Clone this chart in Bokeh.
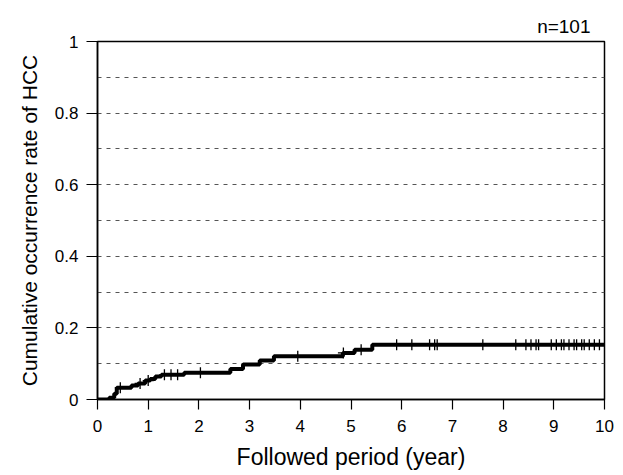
import numpy as np
from bokeh.plotting import figure
from bokeh.models import FixedTicker, Range1d
from bokeh.embed import file_html
from bokeh.resources import INLINE

# Kaplan-Meier style cumulative occurrence (event times in years, cumulative rate)
event_times = [0, 0.23, 0.33, 0.38, 0.67, 0.8, 0.94, 1.04, 1.14, 1.26, 1.71,
               2.62, 2.87, 3.2, 3.48, 4.84, 5.07, 5.42, 10.0]
cum_rate = [0, 0.005, 0.016, 0.033, 0.039, 0.045, 0.053, 0.057, 0.064, 0.069, 0.075,
            0.085, 0.098, 0.109, 0.121, 0.130, 0.139, 0.153, 0.153]

# censored observations (years)
censor_times = [0.45, 0.84, 1.0, 1.32, 1.45, 1.58, 2.03, 3.95, 4.85, 5.2,
                5.9, 6.2, 6.55, 6.65, 6.7, 7.6, 8.25, 8.45, 8.55, 8.65, 8.7,
                8.95, 9.05, 9.15, 9.2, 9.3, 9.4, 9.45, 9.55, 9.6, 9.7, 9.8, 9.9]

x_ticks = [0, 1, 2, 3, 4, 5, 6, 7, 8, 9, 10]
y_ticks = [0, 0.2, 0.4, 0.6, 0.8, 1]
grid_levels = [0.1, 0.2, 0.3, 0.4, 0.5, 0.6, 0.7, 0.8, 0.9]
sample_label = "n=101"

FONT = "Liberation Sans"

p = figure(width=615, height=475, frame_width=507, frame_height=358,
           output_backend="svg", toolbar_location=None,
           x_range=Range1d(0, 10), y_range=Range1d(0, 1),
           min_border_left=97, min_border_top=41, min_border_right=11,
           min_border_bottom=76,
           title=sample_label, title_location="above")

p.title.align = "right"
p.title.text_font = FONT
p.title.text_font_size = "19px"
p.title.text_font_style = "normal"
p.title.text_color = "black"
p.title.offset = 14
p.title.standoff = 10

p.background_fill_color = "white"
p.border_fill_color = "white"
p.outline_line_color = "black"
p.outline_line_width = 1.5

# grid
p.xgrid.visible = False
p.ygrid.ticker = FixedTicker(ticks=grid_levels)
p.ygrid.grid_line_color = "#555555"
p.ygrid.grid_line_dash = "4 5"
p.ygrid.grid_line_width = 1

# axes
for ax in (p.xaxis[0], p.yaxis[0]):
    ax.axis_line_color = "black"
    ax.axis_line_width = 1.5
    ax.major_tick_line_color = "black"
    ax.major_tick_line_width = 1.2
    ax.major_tick_in = 0
    ax.minor_tick_line_color = None
    ax.major_label_text_font = FONT
    ax.major_label_text_font_size = "17px"
    ax.major_label_text_color = "black"
    ax.axis_label_text_font = FONT
    ax.axis_label_text_font_style = "normal"
    ax.axis_label_text_color = "black"

p.xaxis.ticker = FixedTicker(ticks=x_ticks)
p.yaxis.ticker = FixedTicker(ticks=y_ticks)
p.yaxis.major_label_overrides = {0: "0", 0.2: "0.2", 0.4: "0.4", 0.6: "0.6", 0.8: "0.8", 1: "1"}
p.xaxis.axis_label = "Followed period (year)"
p.yaxis.axis_label = "Cumulative occurrence rate of HCC"
p.xaxis.major_tick_out = 10
p.yaxis.major_tick_out = 11
p.xaxis.major_label_standoff = 10
p.yaxis.major_label_standoff = 8
p.xaxis.axis_label_text_font_size = "23px"
p.yaxis.axis_label_text_font_size = "21px"
p.xaxis.axis_label_standoff = 9
p.yaxis.axis_label_standoff = 11

# step curve
p.step(event_times, cum_rate, mode="after", line_color="black", line_width=4)

# censor marks
ct = np.array(censor_times)
et = np.array(event_times)
cr = np.array(cum_rate)
idx = np.searchsorted(et, ct, side="right") - 1
cens_y = cr[idx]
p.scatter(ct, cens_y, marker="cross", size=11, line_color="black", line_width=1.3)

open("out.html", "w").write(file_html(p, INLINE))
